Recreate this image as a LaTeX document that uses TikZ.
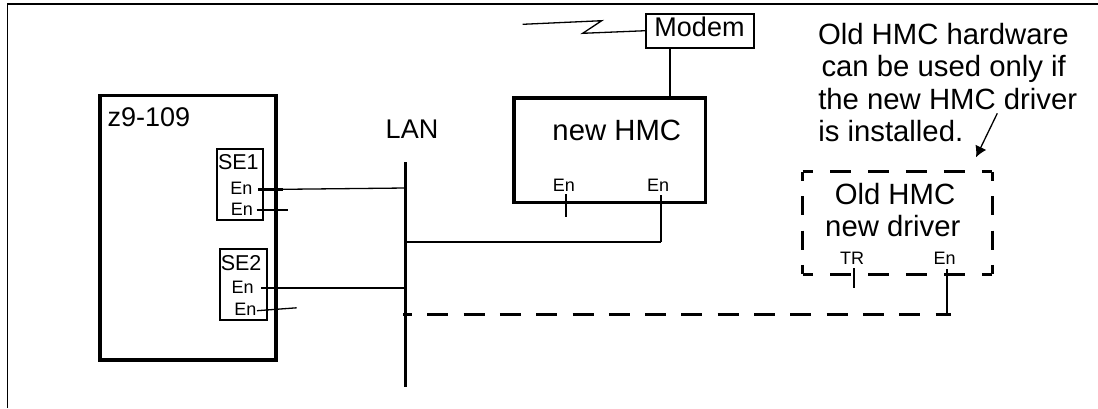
\documentclass[tikz,border=0pt]{standalone}
\usepackage{fontspec}
\setmainfont{Liberation Sans}
\usetikzlibrary{arrows.meta}
\begin{document}
\begin{tikzpicture}[x=1pt,y=-1pt,
  thickbox/.style={draw, line width=3.4pt, inner sep=0pt, outer sep=0pt},
  thinbox/.style={draw, line width=1.7pt, inner sep=0pt, outer sep=0pt},
  ghost/.style={inner sep=0pt, outer sep=0pt},
  sidedash/.style={line width=3pt, line cap=butt},
  lbl/.style={inner sep=0pt, outer sep=0pt, anchor=base west},
  clbl/.style={inner sep=0pt, outer sep=0pt, anchor=base},
  big/.style={font=\fontsize{29.3}{29.3}\selectfont},
  mid/.style={font=\fontsize{27}{27}\selectfont},
  sefont/.style={font=\fontsize{21.5}{21.5}\selectfont},
  portfont/.style={font=\fontsize{18}{18}\selectfont},
  thinwire/.style={line width=1.3pt},
  wire/.style={line width=2pt},
  heavywire/.style={line width=2.8pt},
  lanline/.style={line width=3.4pt},
  dashwire/.style={line width=3pt, dash pattern=on 21pt off 15.3pt, dash phase=12pt},
  frame/.style={line width=1.6pt}
]
\useasboundingbox (0,0) rectangle (1098,408);

% outer frame
\coordinate (frBL) at (7.3,408);
\coordinate (frTL) at (7.3,4);
\coordinate (frTR) at (1098,4);
\draw[frame] (frBL) -- (frTL) -- (frTR);

% z9-109 system
\node[thickbox, minimum width=176pt, minimum height=264.5pt, anchor=north west] (z9) at (100,95.5) {};
\node[lbl, mid] (z9lbl) at (107.5,126.7) {z9-109};

% SE1
\node[thinbox, minimum width=45.4pt, minimum height=70.7pt, anchor=north west] (se1) at (217.3,149.3) {};
\node[lbl, sefont] (se1lbl) at (218,169.3) {SE1};
\node[lbl, portfont] (se1a) at (230.3,194.3) {En};
\node[lbl, portfont] (se1b) at (230.8,215) {En};

% SE2
\node[thinbox, minimum width=46.7pt, minimum height=70.7pt, anchor=north west] (se2) at (220,249.3) {};
\node[lbl, sefont] (se2lbl) at (220.8,270.7) {SE2};
\node[lbl, portfont] (se2a) at (231.6,293.3) {En};
\node[lbl, portfont] (se2b) at (234.3,315) {En};

% LAN
\coordinate (lanTop) at (405.5,162);
\coordinate (lanBot) at (405.5,387);
\draw[lanline] (lanTop) -- (lanBot);
\node[clbl, mid] (lanlbl) at (412,138) {LAN};

% port wires of SE1 / SE2
\coordinate (p1a) at (258.3,189.3);
\coordinate (p1ak) at (283,189.3);
\coordinate (lan1) at (405.5,188);
\draw[heavywire] (p1a) -- (p1ak);
\draw[thinwire] (p1ak) -- (lan1);
\coordinate (p1b) at (256.7,210);
\coordinate (p1be) at (288.3,210);
\draw[wire] (p1b) -- (p1be);
\coordinate (p2a) at (261,288.3);
\coordinate (lan2) at (405.5,288.3);
\draw[wire] (p2a) -- (lan2);
\coordinate (p2b) at (257,310.7);
\coordinate (p2be) at (296.7,307.8);
\draw[thinwire] (p2b) -- (p2be);

% Modem
\node[thinbox, minimum width=108.3pt, minimum height=33.7pt, anchor=north west] (modem) at (645.7,14) {};
\node[clbl, mid] (modemlbl) at (699.5,36.7) {Modem};
\coordinate (zz1) at (522.7,24.3);
\coordinate (zz2) at (601.7,20.7);
\coordinate (zz3) at (582.7,33.3);
\coordinate (zz4) at (645.7,30.7);
\draw[thinwire] (zz1) -- (zz2) -- (zz3) -- (zz4);

% new HMC
\node[thickbox, minimum width=191.5pt, minimum height=104.3pt, anchor=north west] (hmc) at (514,98) {};
\node[clbl, big] (hmclbl) at (616.8,140) {new HMC};
\node[lbl, portfont] (hmcEa) at (552.8,191) {En};
\node[lbl, portfont] (hmcEb) at (647,191.5) {En};
\coordinate (modemB) at (670.3,47.7);
\coordinate (hmcT) at (670.3,98);
\draw[wire] (modemB) -- (hmcT);
\coordinate (ha1) at (566,194.3);
\coordinate (ha2) at (566,217);
\draw[heavywire] (ha1) -- (ha2);
\coordinate (hb1) at (661,195);
\coordinate (hb2) at (661,241.7);
\coordinate (lan3) at (405.5,241.7);
\draw[heavywire] (hb1) -- (hb2);
\draw[wire] (hb2) -- (lan3);

% old HMC with new driver (dashed)
\node[ghost, minimum width=189.6pt, minimum height=102.6pt, anchor=north west] (old) at (802.7,171.7) {};
\draw[sidedash, dash pattern=on 21pt off 16.92pt, dash phase=10.5pt] (old.north west) -- (old.north east);
\draw[sidedash, dash pattern=on 21pt off 16.92pt, dash phase=10.5pt] (old.south west) -- (old.south east);
\draw[sidedash, dash pattern=on 19pt off 15.2pt, dash phase=9.5pt] (old.north west) -- (old.south west);
\draw[sidedash, dash pattern=on 19pt off 15.2pt, dash phase=9.5pt] (old.north east) -- (old.south east);
\node[clbl, big] (oldlblA) at (895,204.5) {Old HMC};
\node[clbl, big] (oldlblB) at (892.8,236) {new driver};
\node[lbl, portfont] (oldTR) at (840,264.3) {TR};
\node[lbl, portfont] (oldEn) at (933.5,264.3) {En};
\coordinate (tr1) at (854,268.3);
\coordinate (tr2) at (854,288.3);
\draw[wire] (tr1) -- (tr2);
\coordinate (oe1) at (946.7,269.3);
\coordinate (oe2) at (946.7,314);
\draw[wire] (oe1) -- (oe2);
\coordinate (dashL) at (403,314);
\coordinate (dashR) at (950.7,314);
\draw[dashwire] (dashL) -- (dashR);

% annotation
\node[lbl, big] (noteA) at (818,44.5) {Old HMC hardware};
\node[lbl, big] (noteB) at (821.5,76.8) {can be used only if};
\node[lbl, big] (noteC) at (818.3,109) {the new HMC driver};
\node[lbl, big] (noteD) at (818.3,141.3) {is installed.};
\coordinate (arrS) at (997.3,113.3);
\coordinate (arrE) at (976,157.3);
\draw[line width=1.3pt, -{Latex[length=11pt,width=12pt]}] (arrS) -- (arrE);
\end{tikzpicture}
\end{document}
